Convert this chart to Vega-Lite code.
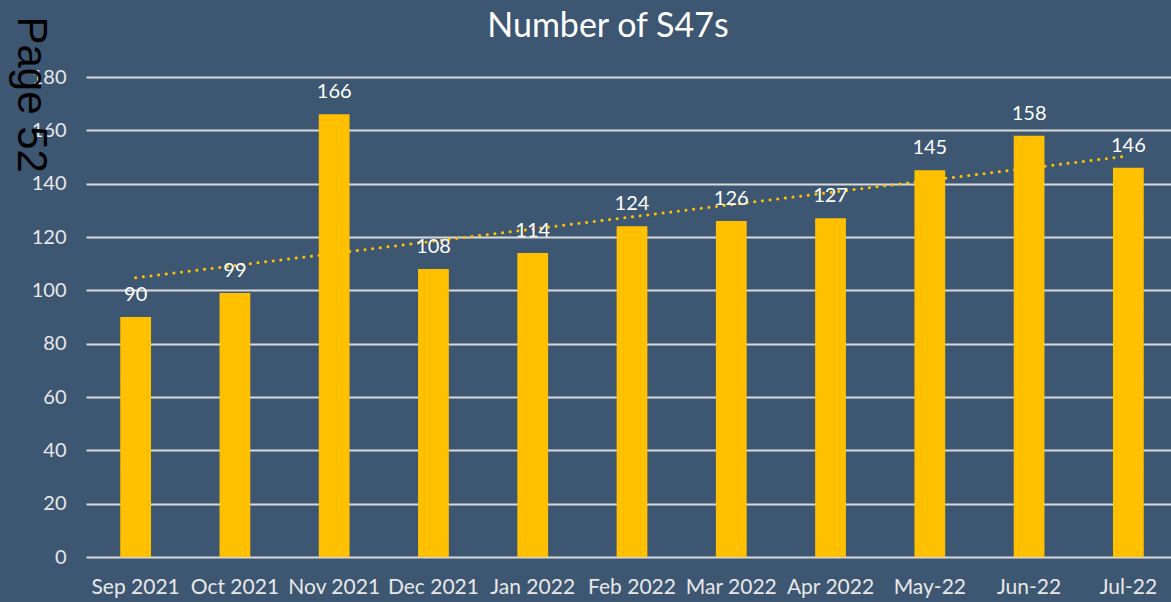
{
  "$schema": "https://vega.github.io/schema/vega-lite/v6.json",
  "autosize": {"type": "none"},
  "padding": {"left": 86, "top": 77, "right": 0, "bottom": 45},
  "width": 1092,
  "height": 480,
  "background": "#3D5671",
  "config": {
    "view": {"stroke": null},
    "font": "Lato"
  },
  "title": {
    "text": "Number of S47s",
    "color": "#FFFFFF",
    "fontSize": 34,
    "fontWeight": "normal",
    "font": "Lato",
    "anchor": "middle",
    "frame": "group",
    "dx": -24,
    "offset": -28
  },
  "datasets": {
    "bars": [
      {"month": "Sep 2021", "count": 90},
      {"month": "Oct 2021", "count": 99},
      {"month": "Nov 2021", "count": 166},
      {"month": "Dec 2021", "count": 108},
      {"month": "Jan 2022", "count": 114},
      {"month": "Feb 2022", "count": 124},
      {"month": "Mar 2022", "count": 126},
      {"month": "Apr 2022", "count": 127},
      {"month": "May-22", "count": 145},
      {"month": "Jun-22", "count": 158},
      {"month": "Jul-22", "count": 146}
    ],
    "trend": [
      {"month": "Sep 2021", "trend": 104.7},
      {"month": "Jul-22", "trend": 150.4}
    ]
  },
  "layer": [
    {
      "data": {"name": "trend"},
      "mark": {"type": "line", "color": "#FFC000", "strokeWidth": 3, "strokeCap": "round", "strokeDash": [0.1, 7.6]},
      "encoding": {
        "x": {"field": "month", "type": "nominal", "sort": null},
        "y": {"field": "trend", "type": "quantitative"}
      }
    },
    {
      "data": {"name": "bars"},
      "mark": {"type": "bar", "color": "#FFC000"},
      "encoding": {
        "x": {"field": "month", "type": "nominal", "sort": null},
        "y": {"field": "count", "type": "quantitative"}
      }
    },
    {
      "data": {"name": "bars"},
      "mark": {"type": "text", "color": "#FFFFFF", "fontSize": 20, "baseline": "bottom", "dy": -12},
      "encoding": {
        "x": {"field": "month", "type": "nominal", "sort": null},
        "y": {"field": "count", "type": "quantitative"},
        "text": {"field": "count", "type": "quantitative"}
      }
    }
  ],
  "resolve": {"scale": {"x": "shared", "y": "shared"}},
  "encoding": {
    "x": {
      "field": "month",
      "type": "nominal",
      "sort": null,
      "scale": {"paddingInner": 0.69, "paddingOuter": 0.345, "domain": ["Sep 2021","Oct 2021","Nov 2021","Dec 2021","Jan 2022","Feb 2022","Mar 2022","Apr 2022","May-22","Jun-22","Jul-22"]},
      "axis": {
        "title": null,
        "labelAngle": 0,
        "labelColor": "#E8E8E8",
        "labelFontSize": 21,
        "labelPadding": 19,
        "ticks": false,
        "domain": false,
        "grid": false
      }
    },
    "y": {
      "field": "count",
      "type": "quantitative",
      "scale": {"domain": [0, 180]},
      "axis": {
        "values": [0, 20, 40, 60, 80, 100, 120, 140, 160, 180],
        "title": "Page 52",
        "titleAngle": 90,
        "titleColor": "#000000",
        "titleFont": "Liberation Sans",
        "titleFontSize": 42,
        "titleFontWeight": "normal",
        "titleAlign": "left",
        "titleBaseline": "alphabetic",
        "titleX": -69,
        "titleY": -61,
        "labelColor": "#E8E8E8",
        "labelFontSize": 20,
        "labelPadding": 20,
        "ticks": false,
        "domain": false,
        "grid": true,
        "gridColor": "#D9D9D9",
        "gridWidth": 2
      }
    }
  }
}
